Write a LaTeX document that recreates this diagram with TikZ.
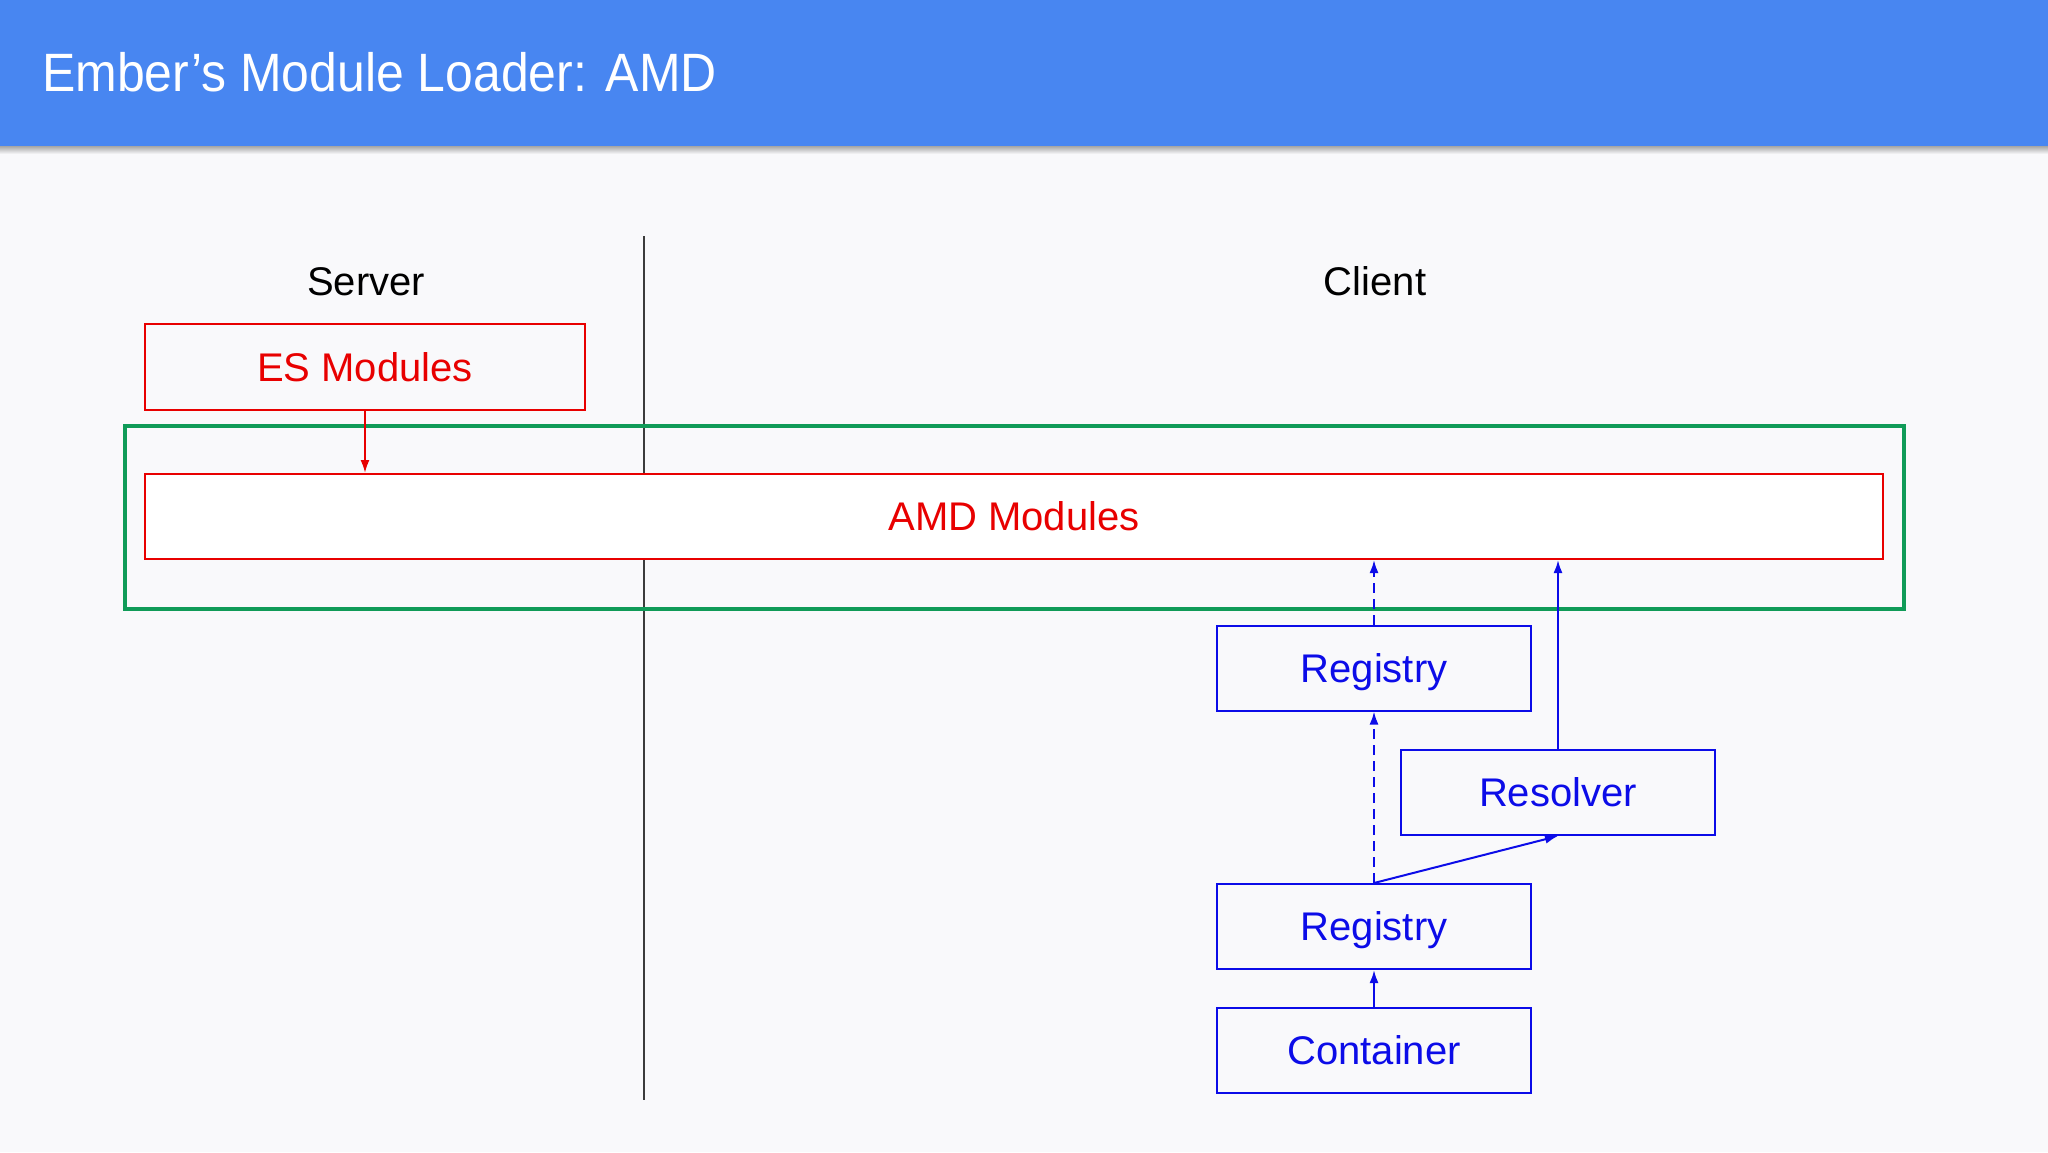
\documentclass[tikz,border=0pt]{standalone}
\usepackage{fontspec}
\setmainfont{Liberation Sans}
\usetikzlibrary{arrows.meta}
\definecolor{bgc}{RGB}{249,249,251}
\definecolor{hdr}{RGB}{72,134,241}
\definecolor{gbox}{RGB}{16,155,88}
\definecolor{rbox}{RGB}{232,0,0}
\definecolor{bbox}{RGB}{12,12,232}
\definecolor{divc}{RGB}{60,60,60}
\tikzset{
  lbl/.style={font=\fontsize{40}{48}\selectfont, text height=28.6pt, text depth=0pt, inner sep=0pt},
  redbox/.style={lbl, draw=rbox, line width=2pt, text=rbox},
  bluebox/.style={lbl, draw=bbox, line width=2pt, text=bbox, minimum width=314pt, minimum height=85pt},
  rarrow/.style={draw=rbox, line width=2pt, -{Latex[length=13pt,width=9pt]}},
  barrow/.style={draw=bbox, line width=2pt, -{Latex[length=13pt,width=9pt]}},
  dsh/.style={dash pattern=on 10pt off 6pt}
}
\begin{document}
\begin{tikzpicture}[x=1pt,y=-1pt]
\useasboundingbox (0,0) rectangle (2048,1152);
\fill[bgc] (0,0) rectangle (2048,1152);
% header shadow
\shade[top color=black!35, bottom color=bgc] (0,146) rectangle (2048,154);
\fill[hdr] (0,0) rectangle (2048,146);
\node[anchor=base west, inner sep=0pt, text=white, font=\fontsize{54}{60}\selectfont] (title) at (42,91) {\scalebox{0.925}[1]{Ember’s Module Loader: AMD}};
% divider
\coordinate (dtop) at (644,236);
\coordinate (dbot) at (644,1100);
\draw[divc, line width=2pt] (dtop) -- (dbot);
% labels
\node[lbl] (server) at (366,281) {Server};
\node[lbl] (client) at (1375,281) {Client};
% green box
\node[draw=gbox, line width=4pt, minimum width=1779pt, minimum height=183pt, inner sep=0pt] (green) at (1014.5,517.5) {};
% ES modules
\node[redbox, minimum width=440pt, minimum height=86pt] (es) at (365,367) {ES Modules};
% AMD modules
\node[redbox, fill=white, minimum width=1738pt, minimum height=85pt] (amd) at (1014,516.5) {AMD Modules};
% client boxes
\node[bluebox] (reg1) at (1374,668) {Registry};
\node[bluebox] (res) at (1558,792.5) {Resolver};
\node[bluebox] (reg2) at (1374,926.5) {Registry};
\node[bluebox] (cont) at (1374,1050.5) {Container};
% arrows
\draw[rarrow] (es.south) -- (es.south |- amd.north);
\draw[barrow, dsh] (reg1.north) -- (reg1.north |- amd.south);
\draw[barrow] (res.north) -- (res.north |- amd.south);
\draw[barrow, dsh] (reg2.north) -- (reg1.south);
\draw[barrow] (reg2.north) -- (res.south);
\draw[barrow] (cont.north) -- (reg2.south);
\end{tikzpicture}
\end{document}
